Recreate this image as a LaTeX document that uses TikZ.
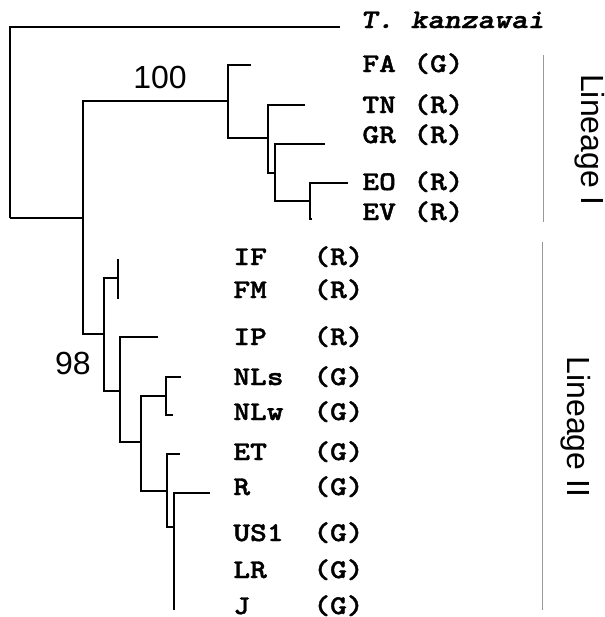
\documentclass[tikz,border=0pt]{standalone}
\usepackage{fontspec}
\setmainfont{Liberation Sans}
\setsansfont{Liberation Sans}
\newfontfamily\taxfont{lmmonolt10-bold.otf}[ItalicFont=lmmonolt10-boldoblique.otf, FakeStretch=1.18, FakeBold=1.5]
\usetikzlibrary{positioning}

\newcommand{\taxon}[3]{\makebox[#1][l]{#2}(#3)}

\begin{document}
\begin{tikzpicture}[
    x=0.5pt, y=-0.5pt, line cap=butt, line join=miter,
    branch/.style  ={line width=0.8pt},
    bar/.style     ={gray!80, line width=0.5pt},
    leaf/.style    ={anchor=base west, inner sep=0pt, font=\fontsize{13.5}{14}\taxfont},
    support/.style ={font=\fontsize{16}{18}\selectfont\sffamily, inner sep=0pt},
    lineage/.style ={font=\fontsize{16}{18}\selectfont\sffamily, rotate=-90, inner sep=0pt}
]
\useasboundingbox (0,0) rectangle (605,617);

% root and outgroup
\coordinate (root) at (10,218);
\coordinate (tKan) at (340,27);
\coordinate (nIn)  at (83,218);

% lineage I
\coordinate (nI)  at (228,101);
\coordinate (tFA) at (251,65);
\coordinate (nI2) at (268,138);
\coordinate (tTN) at (305,105);
\coordinate (nI3) at (275,173);
\coordinate (tGR) at (325,144);
\coordinate (nI4) at (310,201);
\coordinate (tEO) at (348,183);
\coordinate (tEV) at (312,219);

% lineage II
\coordinate (nII)  at (104,334);
\coordinate (nII1) at (118,278);
\coordinate (tIF)  at (118,259);
\coordinate (tFM)  at (118,299);
\coordinate (nII2) at (120,391);
\coordinate (tIP)  at (158,337);
\coordinate (nII3) at (141,442);
\coordinate (nII4) at (166,396);
\coordinate (tNLs) at (181,377);
\coordinate (tNLw) at (173,415);
\coordinate (nII5) at (167,491);
\coordinate (tET)  at (180,454);
\coordinate (nII6) at (174,527);
\coordinate (tR)   at (210,493);
\coordinate (tUS)  at (174,537);
\coordinate (tLR)  at (174,574);
\coordinate (tJ)   at (174,610);

\foreach \p/\c in {root/tKan, root/nIn, nIn/nI, nIn/nII,
    nI/tFA, nI/nI2, nI2/tTN, nI2/nI3, nI3/tGR, nI3/nI4, nI4/tEO, nI4/tEV,
    nII/nII1, nII/nII2, nII1/tIF, nII1/tFM, nII2/tIP, nII2/nII3,
    nII3/nII4, nII3/nII5, nII4/tNLs, nII4/tNLw, nII5/tET, nII5/nII6,
    nII6/tR, nII6/tUS, nII6/tLR, nII6/tJ}
  \draw[branch] (\p) |- (\c);

% bootstrap values
\node[support] (b100) at (160,77) {100};
\node[support] (b98)  at (73,363) {98};

% taxa
\node[leaf] (lKan) at (360,28) {\itshape T. kanzawai};
\node[leaf] (lFA)  at (362,72)  {\taxon{25.5pt}{FA}{G}};
\node[leaf] (lTN)  at (362,113) {\taxon{25.5pt}{TN}{R}};
\node[leaf] (lGR)  at (362,143) {\taxon{25.5pt}{GR}{R}};
\node[leaf] (lEO)  at (362,190) {\taxon{25.5pt}{EO}{R}};
\node[leaf] (lEV)  at (362,220) {\taxon{25.5pt}{EV}{R}};

\node[leaf] (lIF)  at (233,265) {\taxon{40pt}{IF}{R}};
\node[leaf] (lFM)  at (233,298) {\taxon{40pt}{FM}{R}};
\node[leaf] (lIP)  at (233,345) {\taxon{40pt}{IP}{R}};
\node[leaf] (lNLs) at (233,385) {\taxon{40pt}{NLs}{G}};
\node[leaf] (lNLw) at (233,420) {\taxon{40pt}{NLw}{G}};
\node[leaf] (lET)  at (233,460) {\taxon{40pt}{ET}{G}};
\node[leaf] (lR)   at (233,495) {\taxon{40pt}{R}{G}};
\node[leaf] (lUS)  at (233,541) {\taxon{40pt}{US1}{G}};
\node[leaf] (lLR)  at (233,578) {\taxon{40pt}{LR}{G}};
\node[leaf] (lJ)   at (233,614) {\taxon{40pt}{J}{G}};

% lineage bars
\draw[bar] (543,55) -- (543,222);
\draw[bar] (542,242) -- (542,610);
\node[lineage] (linI)  at (590,140) {Lineage I};
\node[lineage] (linII) at (576,427) {Lineage II};
\end{tikzpicture}
\end{document}
